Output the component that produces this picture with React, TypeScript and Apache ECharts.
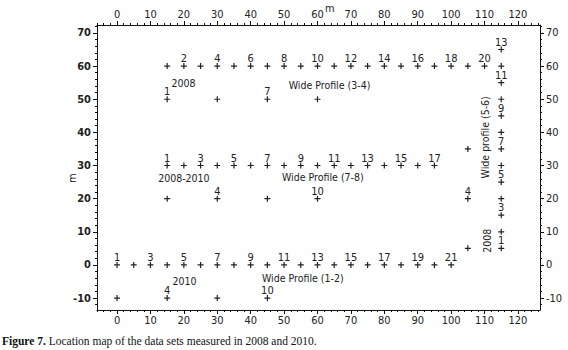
import React, { useEffect, useRef } from 'react';
import * as echarts from 'echarts';

// ---- axis ticks ----
const xMajorTicks = [0, 10, 20, 30, 40, 50, 60, 70, 80, 90, 100, 110, 120];
const yMajorTicks = [-10, 0, 10, 20, 30, 40, 50, 60, 70];

// ---- Wide Profile (3-4), 2008 ----
const row60X = [15, 20, 25, 30, 35, 40, 45, 50, 55, 60, 65, 70, 75, 80, 85, 90, 95, 100, 105, 110];
const row60Labels = ['', '2', '', '4', '', '6', '', '8', '', '10', '', '12', '', '14', '', '16', '', '18', '', '20'];
const row50X = [15, 30, 45, 60];
const row50Labels = ['1', '', '7', ''];

// ---- Wide Profile (7-8), 2008-2010 ----
const row30X = [15, 20, 25, 30, 35, 40, 45, 50, 55, 60, 65, 70, 75, 80, 85, 90, 95];
const row30Labels = ['1', '', '3', '', '5', '', '7', '', '9', '', '11', '', '13', '', '15', '', '17'];
const row20X = [15, 30, 45, 60];
const row20Labels = ['', '4', '', '10'];

// ---- Wide Profile (1-2), 2010 ----
const row0X = [0, 5, 10, 15, 20, 25, 30, 35, 40, 45, 50, 55, 60, 65, 70, 75, 80, 85, 90, 95, 100];
const row0Labels = ['1', '', '3', '', '5', '', '7', '', '9', '', '11', '', '13', '', '15', '', '17', '', '19', '', '21'];
const rowM10X = [0, 15, 30, 45];
const rowM10Labels = ['', '4', '', '10'];

// ---- Wide profile (5-6), 2008 ----
const col115Y = [5, 10, 15, 20, 25, 30, 35, 40, 45, 50, 55, 60, 65];
const col115Labels = ['1', '', '3', '', '5', '', '7', '', '9', '', '11', '', '13'];
const col105Y = [5, 20, 35];
const col105Labels = ['', '4', ''];

// ---- annotations [x, y, text, rotate] ----
const annotations: [number, number, string, number][] = [
  [19.9, 55.0, '2008', 0],
  [63.6, 54.3, 'Wide Profile (3-4)', 0],
  [20.0, 26.3, '2008-2010', 0],
  [61.6, 26.5, 'Wide Profile (7-8)', 0],
  [20.2, -4.8, '2010', 0],
  [55.6, -4.0, 'Wide Profile (1-2)', 0],
  [110.1, 38.5, 'Wide profile (5-6)', 90],
  [110.6, 7.3, '2008', 90],
];

const caption = 'Location map of the data sets measured in 2008 and 2010.';

const FONT = "'Liberation Sans Narrow', 'DejaVu Sans Condensed', 'Arial Narrow', 'Liberation Sans', sans-serif";
const SERIF = "'Liberation Serif', 'Times New Roman', serif";
const PLUS = 'path://M2,0h1v2h2v1h-2v2h-1v-2h-2v-1h2z';

function rowPoints(xs: number[], y: number, labels: string[]) {
  return xs.map((x, i) => ({ value: [x, y], label: { show: labels[i] !== '', formatter: labels[i] } }));
}
function colPoints(x: number, ys: number[], labels: string[]) {
  return ys.map((y, i) => ({ value: [x, y], label: { show: labels[i] !== '', formatter: labels[i] } }));
}

function minorRange(a: number, b: number, step: number) {
  const out: number[] = [];
  for (let v = a; v <= b + 1e-9; v += step) out.push(v);
  return out;
}

export default function App() {
  const ref = useRef<HTMLDivElement>(null);
  useEffect(() => {
    if (!ref.current) return;
    document.body.style.margin = '0';
    const chart = echarts.init(ref.current, null, { renderer: 'svg' });
    const xMin = -6, xMax = 126.6, yMin = -13.6, yMax = 72.4;
    const xMinor = minorRange(-6, 126, 2);
    const yMinor = minorRange(-12, 72, 2);
    const lineCol = '#111';
    const majorX = (position: string) => ({
      type: 'value', position, min: xMin, max: xMax, gridIndex: 0,
      axisLine: { show: true, onZero: false, lineStyle: { color: lineCol, width: 1 } },
      axisTick: { show: true, customValues: xMajorTicks, length: 4, lineStyle: { color: lineCol } },
      axisLabel: { show: true, customValues: xMajorTicks, margin: 5, color: '#222', fontSize: 11, fontFamily: FONT },
      splitLine: { show: false },
    });
    const minorX = (position: string) => ({
      type: 'value', position, min: xMin, max: xMax, gridIndex: 0,
      axisLine: { show: false, onZero: false },
      axisTick: { show: true, customValues: xMinor, length: 2, lineStyle: { color: lineCol } },
      axisLabel: { show: false },
      splitLine: { show: false },
    });
    const majorY = (position: string, bold: boolean) => ({
      type: 'value', position, min: yMin, max: yMax, gridIndex: 0,
      axisLine: { show: true, onZero: false, lineStyle: { color: lineCol, width: 1 } },
      axisTick: { show: true, customValues: yMajorTicks, length: 4, lineStyle: { color: lineCol } },
      axisLabel: { show: true, customValues: yMajorTicks, margin: 6, color: '#222', fontSize: 11, fontWeight: bold ? 'bold' : 'normal', fontFamily: FONT },
      splitLine: { show: false },
    });
    const minorY = (position: string) => ({
      type: 'value', position, min: yMin, max: yMax, gridIndex: 0,
      axisLine: { show: false, onZero: false },
      axisTick: { show: true, customValues: yMinor, length: 2, lineStyle: { color: lineCol } },
      axisLabel: { show: false },
      splitLine: { show: false },
    });

    const points = [
      ...rowPoints(row60X, 60, row60Labels),
      ...rowPoints(row50X, 50, row50Labels),
      ...rowPoints(row30X, 30, row30Labels),
      ...rowPoints(row20X, 20, row20Labels),
      ...rowPoints(row0X, 0, row0Labels),
      ...rowPoints(rowM10X, -10, rowM10Labels),
      ...colPoints(115, col115Y, col115Labels),
      ...colPoints(105, col105Y, col105Labels),
    ];

    chart.setOption({
      animation: false,
      grid: { left: 97, right: 28, top: 25, bottom: 40, containLabel: false },
      xAxis: [majorX('bottom'), minorX('bottom'), majorX('top'), minorX('top')],
      yAxis: [majorY('left', true), minorY('left'), majorY('right', false), minorY('right')],
      series: [
        {
          type: 'scatter',
          xAxisIndex: 0, yAxisIndex: 0,
          symbol: PLUS,
          symbolSize: 6,
          symbolKeepAspect: true,
          itemStyle: { color: '#222', opacity: 1 },
          label: { position: 'top', distance: -1, lineHeight: 11, fontSize: 11, color: '#222', fontFamily: FONT },
          emphasis: { disabled: true },
          data: points,
        },
        {
          type: 'scatter',
          xAxisIndex: 0, yAxisIndex: 0,
          symbol: 'circle',
          symbolSize: 0.01,
          itemStyle: { color: '#222' },
          emphasis: { disabled: true },
          data: annotations.map(([x, y, t, r]) => ({
            value: [x, y],
            label: {
              show: true, position: 'inside', formatter: t, rotate: r, fontSize: 10.5, lineHeight: 11,
              color: '#222', textBorderWidth: 0, textBorderColor: 'transparent', opacity: 1, fontFamily: FONT,
            },
          })),
        },
      ],
      graphic: [
        { type: 'text', left: 325, top: 3, style: { text: 'm', fontSize: 11, fill: '#222', fontFamily: FONT } },
        { type: 'text', x: 67, y: 183, rotation: Math.PI / 2, style: { text: 'm', fontSize: 11, fill: '#222', fontFamily: FONT } },
        {
          type: 'text', left: 2, top: 335,
          style: {
            text: '{b|Figure 7.} ' + caption,
            fontSize: 11.5, fill: '#111', fontFamily: SERIF,
            rich: { b: { fontWeight: 'bold', fontSize: 11.5, fontFamily: SERIF } },
          },
        },
      ],
    });
    return () => chart.dispose();
  }, []);
  return <div ref={ref} style={{ width: 568, height: 350, background: '#fff' }} />;
}
